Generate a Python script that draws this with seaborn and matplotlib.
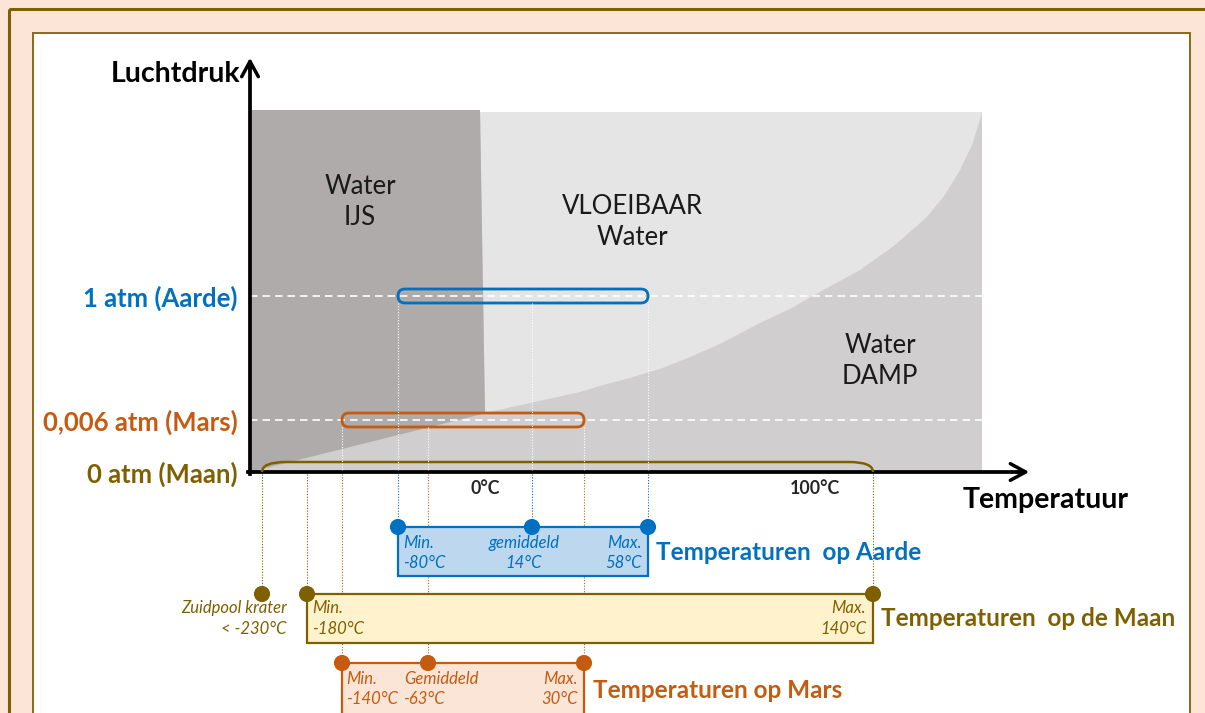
import numpy as np
import pandas as pd
import matplotlib
matplotlib.use("Agg")
import matplotlib.pyplot as plt
import matplotlib.transforms as mtransforms
from matplotlib.patches import Rectangle, FancyBboxPatch, PathPatch
from matplotlib.path import Path
import seaborn as sns

# ---- values ----
planets = ["Aarde", "Maan", "Mars"]
planet_pressure = [1.0, 0.0, 0.006]  # atm
pressure_labels = ["1 atm (Aarde)", "0 atm (Maan)", "0,006 atm (Mars)"]
earth_temps = [-80, 14, 58]      # min, gemiddeld, max (°C)
moon_temps = [-230, -180, 140]   # zuidpool krater, min, max
mars_temps = [-140, -63, 30]     # min, gemiddeld, max
x_ticks = [0, 100]
x_tick_labels = ["0°C", "100°C"]

# schematic phase boundaries (°C, atm)
melt_T = [-5.5, 0]
melt_P = [2.48, 0.06]
vap_T = [0, 13.4, 28.8, 37.0, 50.1, 61.0, 68.6, 76.1, 86.2, 93.7, 103.4,
         131.0, 155.2, 177.2, 189.6, 200.0, 208.3, 215.2]
vap_P = [0.062, 0.142, 0.230, 0.279, 0.343, 0.415, 0.511, 0.615, 0.784, 0.896, 1.032,
         1.208, 1.409, 1.633, 1.810, 2.010, 2.210, 2.467]

# the picture's axes are schematic, not linear: where each value sits
axis_temps = [-230, -180, -140, -80, -63, 0, 14, 30, 58, 100, 140]
axis_temp_px = [262, 307, 342, 398, 428, 485, 532, 584, 648, 815, 873]
axis_pressures = [0, 0.006, 1]
axis_pressure_px = [472, 420, 296]   # from the top of the image

# ---- layout ----
W, H = 1205, 713
diagram_px = dict(left=250, right=982, top=112)
row_y = {"Aarde": 527, "Maan": 594, "Mars": 663}
box_h = {"Aarde": 49, "Maan": 49, "Mars": 70}
colors = {"Aarde": "#0070c0", "Maan": "#7f6000", "Mars": "#c55a11"}
fills = {"Aarde": "#bdd7ee", "Maan": "#fff2cc", "Mars": "#fbe5d6"}
brown = "#7f6000"


def extrap(v, xs, ys):
    v = np.asarray(v, dtype=float)
    xs = np.asarray(xs, dtype=float)
    ys = np.asarray(ys, dtype=float)
    out = np.interp(v, xs, ys)
    lo = ys[0] + (v - xs[0]) * (ys[1] - ys[0]) / (xs[1] - xs[0])
    hi = ys[-1] + (v - xs[-1]) * (ys[-1] - ys[-2]) / (xs[-1] - xs[-2])
    out = np.where(v < xs[0], lo, out)
    return np.where(v > xs[-1], hi, out)


pres_h = [H - p for p in axis_pressure_px]
temp_fwd = lambda t: extrap(t, axis_temps, axis_temp_px)
temp_inv = lambda x: extrap(x, axis_temp_px, axis_temps)
pres_fwd = lambda p: extrap(p, axis_pressures, pres_h)
pres_inv = lambda h: extrap(h, pres_h, axis_pressures)
P_at = lambda py: float(pres_inv(H - py))
T_at = lambda px: float(temp_inv(px))

sns.set_theme(style="white")
plt.rcParams["font.family"] = ["Lato", "DejaVu Sans"]

fig = plt.figure(figsize=(W / 100, H / 100), dpi=100, facecolor="#fce4d6")

# background frames, pixel coordinates
bg = fig.add_axes([0, 0, 1, 1])
bg.set_xlim(0, W)
bg.set_ylim(H, 0)
bg.axis("off")
bg.add_patch(Rectangle((8.5, 8.5), W, H, fill=False, ec=brown, lw=2.2))
bg.add_patch(Rectangle((33, 33), 1190 - 33, H, fc="white", ec="#8b6a14", lw=1.4))
bg.text(240, 74, "Luchtdruk", ha="right", va="center", fontsize=20.5, fontweight="bold", color="black")
bg.text(963, 500, "Temperatuur", ha="left", va="center", fontsize=20.5, fontweight="bold", color="black")

# phase diagram, temperature / pressure scales
ax = fig.add_axes([0, 0, 1, 1], facecolor="none")
ax.set_xscale("function", functions=(temp_fwd, temp_inv))
ax.set_yscale("function", functions=(pres_fwd, pres_inv))
ax.set_xlim(T_at(0), T_at(W))
ax.set_ylim(P_at(H), P_at(0))

t_left, t_right = T_at(diagram_px["left"]), T_at(diagram_px["right"])
p_top = P_at(diagram_px["top"])
ax.fill([t_left, t_right, t_right, t_left], [0, 0, p_top, p_top], color="#d0cece", lw=0)
ax.fill([melt_T[0]] + [t_right] + vap_T[::-1], [p_top, p_top] + vap_P[::-1], color="#e5e5e5", lw=0)
ax.fill([t_left, t_left] + melt_T, [0, P_at(110)] + [P_at(110), melt_P[1]], color="#afabab", lw=0)

ax.hlines([1.0, 0.006], t_left, t_right, colors="white", lw=1.2, linestyles=(0, (4.5, 3)))

for s in ["top", "right"]:
    ax.spines[s].set_visible(False)
for s in ["bottom", "left"]:
    ax.spines[s].set_color("black")
    ax.spines[s].set_linewidth(2.7)
ax.spines["bottom"].set_position(("data", 0))
ax.spines["left"].set_position(("data", t_left))
ax.spines["bottom"].set_bounds(T_at(248), T_at(1022))
ax.spines["left"].set_bounds(P_at(474), P_at(66))

ax.set_xticks(x_ticks, x_tick_labels)
ax.set_yticks(planet_pressure, pressure_labels)
ax.tick_params(axis="x", length=0, pad=6, labelsize=12.8)
ax.tick_params(axis="y", length=0, pad=9, labelsize=18.5)
for lbl in ax.get_xticklabels():
    lbl.set_fontweight("bold")
for lbl, name in zip(ax.get_yticklabels(), planets):
    lbl.set_fontweight("bold")
    lbl.set_color(colors[name])

bg.annotate("", xy=(1032, 472), xytext=(1014, 472),
            arrowprops=dict(arrowstyle="->,head_length=0.55,head_width=0.3", lw=2.5, color="black", mutation_scale=20))
bg.annotate("", xy=(250, 55), xytext=(250, 73),
            arrowprops=dict(arrowstyle="->,head_length=0.55,head_width=0.3", lw=2.5, color="black", mutation_scale=20))


def to_px(T, P):
    d = ax.transData.transform((T, P))
    return bg.transData.inverted().transform(d)


pxt = dict(ha="center", va="center", fontsize=18.5, color="#1a1a1a", linespacing=1.3,
           transform=bg.transData, zorder=6)
ax.text(360, 202, "Water\nIJS", **pxt)
ax.text(632, 222, "VLOEIBAAR\nWater", **pxt)
ax.text(880, 361, "Water\nDAMP", **pxt)

# range pills on the pressure lines
temps = {"Aarde": earth_temps, "Maan": moon_temps, "Mars": mars_temps}
for name, P in zip(planets, planet_pressure):
    lo, hi = min(temps[name]), max(temps[name])
    (x0, y0), (x1, _) = to_px(lo, P), to_px(hi, P)
    if name == "Maan":
        r, top = 24, y0 - 10
        verts = [(x0, y0), (x0, top), (x0 + r, top), (x1 - r, top), (x1, top), (x1, y0)]
        codes = [Path.MOVETO, Path.CURVE3, Path.CURVE3, Path.LINETO, Path.CURVE3, Path.CURVE3]
        ax.add_patch(PathPatch(Path(verts, codes), fill=False, ec=colors[name], lw=1.8,
                               transform=bg.transData, zorder=5, clip_on=False))
    else:
        ax.add_patch(FancyBboxPatch((x0, y0 - 7), x1 - x0, 14, boxstyle="round,pad=0,rounding_size=7",
                                    fill=False, ec=colors[name], lw=2.0, transform=bg.transData,
                                    zorder=5, clip_on=False))

# lower panel: temperature on x, pixel rows on y
low = fig.add_axes([0, 0, 1, 1], facecolor="none")
low.set_xscale("function", functions=(temp_fwd, temp_inv))

dots = pd.DataFrame({
    "planet": ["Aarde"] * 3 + ["Maan"] * 3 + ["Mars"] * 3,
    "temp": earth_temps + moon_temps + mars_temps,
})
dots["row"] = dots["planet"].map(row_y)
sns.scatterplot(data=dots, x="temp", y="row", hue="planet", palette=colors, s=135,
                linewidth=0, legend=False, ax=low, zorder=6, clip_on=False)
low.set_xlim(ax.get_xlim())
low.set_ylim(H, 0)
low.axis("off")

axis_py = to_px(0, 0)[1]
dot_style = (0, (1, 1.5))
for name, P in zip(planets, planet_pressure):
    start = to_px(0, P)[1] + (7 if name != "Maan" else 0)
    for t in temps[name]:
        if name != "Maan":
            low.vlines(t, start, axis_py - 2, colors="white", lw=0.8, linestyles=dot_style, zorder=2)
        low.vlines(t, axis_py + 2, row_y[name], colors=colors[name], lw=0.8, linestyles=dot_style, zorder=2)

box_lo = {"Aarde": earth_temps[0], "Maan": moon_temps[1], "Mars": mars_temps[0]}
box_hi = {"Aarde": earth_temps[-1], "Maan": moon_temps[-1], "Mars": mars_temps[-1]}
for name in planets:
    low.add_patch(Rectangle((box_lo[name], row_y[name]), box_hi[name] - box_lo[name], box_h[name],
                            fc=fills[name], ec=colors[name], lw=1.6, zorder=3))


def label(t, dy_row, s, name, dx=0, ha="left", **kw):
    tr = mtransforms.offset_copy(low.transData, fig=fig, x=dx, y=0, units="dots")
    low.text(t, row_y[name] + dy_row, s, transform=tr, ha=ha, va="center", color=colors[name],
             clip_on=False, zorder=7, **kw)


small = dict(fontsize=12, fontstyle="italic")
label(-80, 16, "Min.", "Aarde", 5, **small)
label(-80, 36, "-80°C", "Aarde", 5, **small)
label(14, 16, "gemiddeld", "Aarde", -8, ha="center", **small)
label(14, 36, "14°C", "Aarde", -8, ha="center", **small)
label(58, 16, "Max.", "Aarde", -6, ha="right", **small)
label(58, 36, "58°C", "Aarde", -6, ha="right", **small)

label(-230, 14, "Zuidpool krater", "Maan", 25, ha="right", **small)
label(-230, 35, "< -230°C", "Maan", 25, ha="right", **small)
label(-180, 14, "Min.", "Maan", 5, **small)
label(-180, 35, "-180°C", "Maan", 5, **small)
label(140, 14, "Max.", "Maan", -7, ha="right", **small)
label(140, 35, "140°C", "Maan", -7, ha="right", **small)

label(-140, 16, "Min.", "Mars", 4, **small)
label(-140, 36, "-140°C", "Mars", 4, **small)
label(-63, 16, "Gemiddeld", "Mars", 13, ha="center", **small)
label(-63, 36, "-63°C", "Mars", -4, ha="center", **small)
label(30, 16, "Max.", "Mars", -6, ha="right", **small)
label(30, 36, "30°C", "Mars", -6, ha="right", **small)

title = dict(fontsize=17.5, fontweight="bold")
label(58, 25, "Temperaturen  op Aarde", "Aarde", 8, **title)
label(140, 24, "Temperaturen  op de Maan", "Maan", 8, **title)
label(30, 27, "Temperaturen op Mars", "Mars", 9, **title)

fig.savefig("out.png", dpi=100, facecolor=fig.get_facecolor())
